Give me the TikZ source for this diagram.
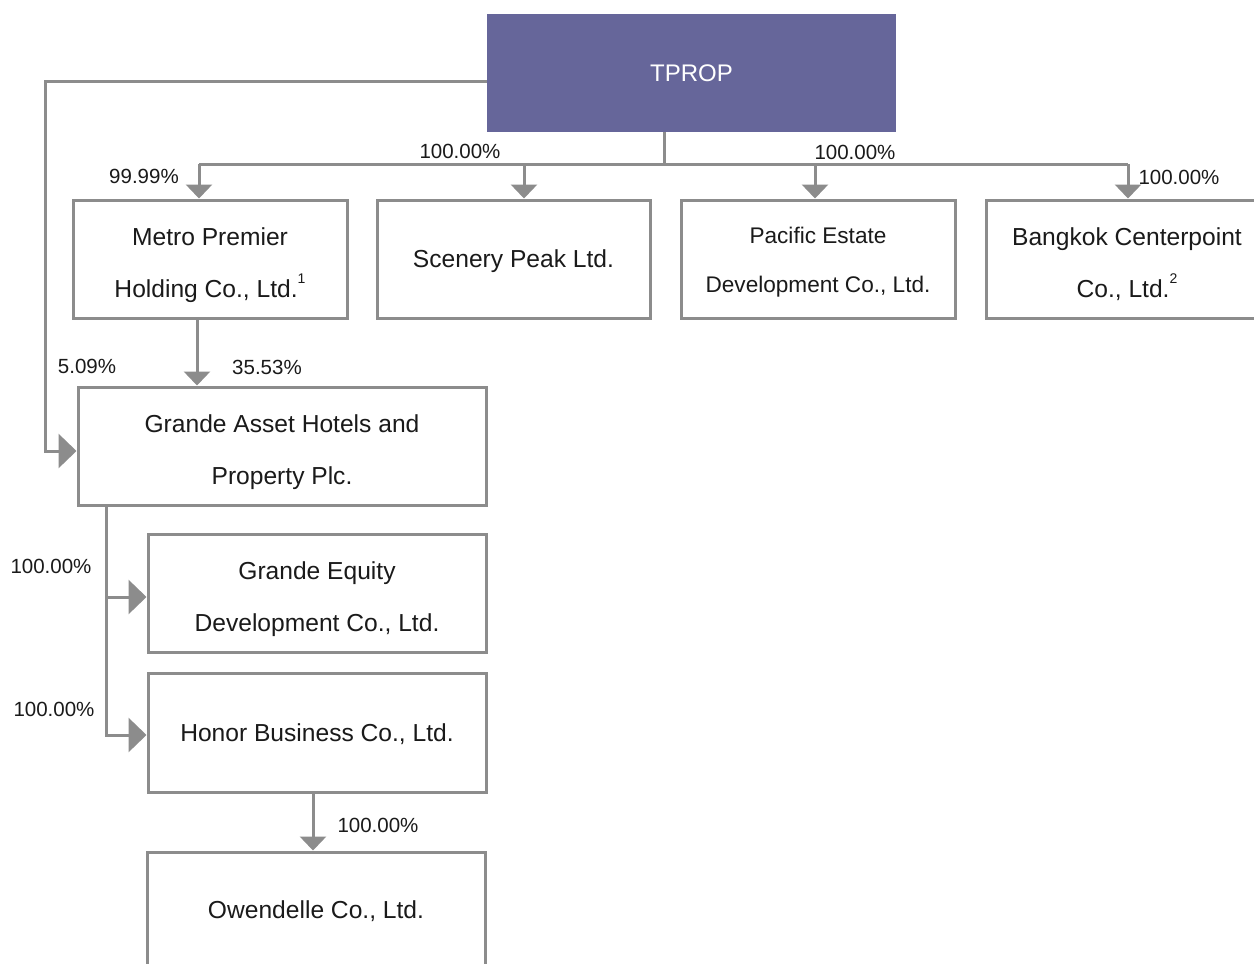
\documentclass[tikz,border=0pt]{standalone}
\usepackage{fontspec}
\setmainfont{Liberation Sans}
\usetikzlibrary{arrows.meta}
\definecolor{linegray}{HTML}{8C8C8C}
\definecolor{purp}{HTML}{66669A}
\definecolor{txt}{HTML}{1A1A1A}
\tikzset{
  box/.style={draw=linegray, line width=1.5pt, fill=white, inner sep=0pt,
    minimum height=59pt},
  boxtxt/.style={inner sep=0pt, align=center, text=txt, font=\fontsize{12.3}{26}\selectfont},
  conn/.style={draw=linegray, line width=1.5pt},
  dn/.style={conn, -{Triangle[length=7pt,width=13pt]}},
  side/.style={conn, -{Triangle[length=9pt,width=17pt]}},
  pct/.style={inner sep=0pt, text=txt, font=\fontsize{10.25}{12}\selectfont}
}
\newcommand{\supr}[1]{\raisebox{1.1ex}{\fontsize{7}{7}\selectfont #1}}
\begin{document}
\begin{tikzpicture}[x=0.5pt,y=-0.5pt]
\clip (0,0) rectangle (1254,964);
\fill[white] (0,0) rectangle (1254,964);
% nodes
\node[fill=purp, minimum width=204.5pt, minimum height=59pt, inner sep=0pt, text=white,
      font=\fontsize{12}{14}\selectfont] (tprop) at (691.5,73) {TPROP};
\node[box, minimum width=137pt,
  label={[boxtxt, yshift=-3pt]center:{Metro Premier\\Holding Co., Ltd.\supr{1}}}] (metro) at (210,259) {};
\node[box, minimum width=136.5pt,
  label={[boxtxt, yshift=-1pt]center:{Scenery Peak Ltd.}}] (scenery) at (513.5,259) {};
\node[box, minimum width=137pt,
  label={[boxtxt, font=\fontsize{11.3}{24.5}\selectfont, yshift=-1.5pt]center:{Pacific Estate\\Development Co., Ltd.}}] (pacific) at (818,259) {};
\node[box, minimum width=141pt,
  label={[boxtxt, yshift=-2.5pt]center:{Bangkok Centerpoint\\Co., Ltd.\supr{2}}}] (bangkok) at (1127,259) {};
\node[box, minimum width=204pt,
  label={[boxtxt, yshift=-3pt]center:{Grande Asset Hotels and\\Property Plc.}}] (grande) at (282,446) {};
\node[box, minimum width=169pt,
  label={[boxtxt, yshift=-3pt]center:{Grande Equity\\Development Co., Ltd.}}] (equity) at (317,593) {};
\node[box, minimum width=169pt, minimum height=59.5pt,
  label={[boxtxt, yshift=-1pt]center:{Honor Business Co., Ltd.}}] (honor) at (317,732.5) {};
\node[box, minimum width=169pt,
  label={[boxtxt]center:{Owendelle Co., Ltd.}}] (owen) at (316,911) {};
% coordinates
\coordinate (bus) at (664,164);
\coordinate (c1) at (199,164);
\coordinate (c2) at (524,164);
\coordinate (c3) at (815,164);
\coordinate (c4) at (1128,164);
\coordinate (gl) at (45,81);
\coordinate (ga) at (45,451);
\coordinate (mg) at (197,340);
\coordinate (b1) at (106,597);
\coordinate (b2) at (106,735);
\coordinate (ho) at (313,820);
% connectors
\draw[conn] (tprop.south -| bus) -- (bus);
\draw[conn] (c1) -- (c4);
\draw[dn] (c1) -- (c1 |- metro.north);
\draw[dn] (c2) -- (c2 |- scenery.north);
\draw[dn] (c3) -- (c3 |- pacific.north);
\draw[dn] (c4) -- (c4 |- bangkok.north);
\draw[side] (tprop.west |- gl) -- (gl) -- (ga) -- (ga -| grande.west);
\draw[dn] (metro.south -| mg) -- (grande.north -| mg);
\draw[side] (grande.south -| b2) -- (b2) -- (b2 -| honor.west);
\draw[side] (b1) -- (b1 -| equity.west);
\draw[dn] (honor.south -| ho) -- (owen.north -| ho);
% labels
\node[pct] (p1) at (144,176) {99.99\%};
\node[pct] (p2) at (460,151) {100.00\%};
\node[pct] (p3) at (855,152) {100.00\%};
\node[pct] (p4) at (1179,177) {100.00\%};
\node[pct] (p5) at (87,366) {5.09\%};
\node[pct] (p6) at (267,367) {35.53\%};
\node[pct] (p7) at (51,566) {100.00\%};
\node[pct] (p8) at (54,709) {100.00\%};
\node[pct] (p9) at (378,825) {100.00\%};
\end{tikzpicture}
\end{document}
